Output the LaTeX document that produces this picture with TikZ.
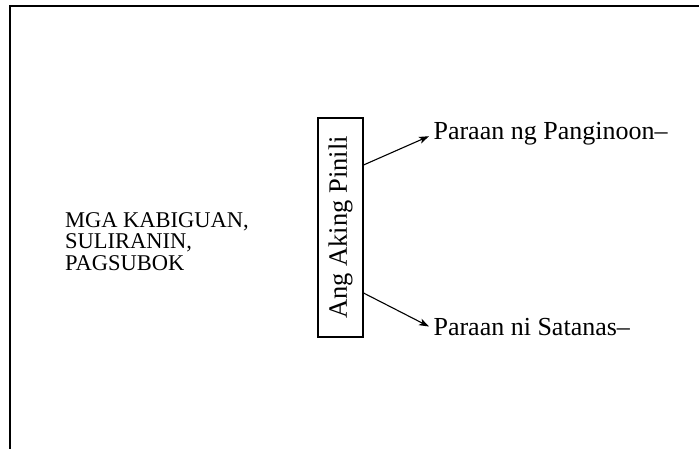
\documentclass[tikz,border=0pt]{standalone}
\usepackage{fontspec}
\setmainfont{Liberation Serif}
\usetikzlibrary{arrows.meta}

\tikzset{every picture/.style={line width=1.1pt}}
\tikzset{
	choice box/.style={draw, rotate=90, minimum width=219pt, minimum height=45pt, inner sep=0pt, font=\fontsize{26.5}{30}\selectfont},
	way label/.style={anchor=base west, inner sep=4pt, font=\fontsize{26}{30}\selectfont},
	trial text/.style={anchor=west, align=left, inner sep=0pt, font=\fontsize{22.5}{21.5}\selectfont},
	way arrow/.style={-{Stealth[length=10pt,width=7pt,inset=2.5pt]}}
}

\begin{document}
\begin{tikzpicture}[x=1pt,y=1pt,yscale=-1]
	\useasboundingbox (0,0) rectangle (699,449);
	
	% Frame
	\draw [line width=1.5pt] (699,6) -- (10,6) -- (10,449);
	
	% Text Node
	\node [trial text] (trials) at (64.5,241.3) {MGA KABIGUAN,\\SULIRANIN,\\PAGSUBOK};
	% Choice box
	\node [choice box] (choice) at (340.5,227.5) {Ang Aking Pinili};
	% Text Node
	\node [way label] (lord) at (429,140) {Paraan ng Panginoon–};
	% Text Node
	\node [way label] (satan) at (429,335) {Paraan ni Satanas–};
	
	% Arrows
	\draw [way arrow] (choice.south) ++(0,-62.5) -- ([yshift=2pt]lord.west);
	\draw [way arrow] (choice.south) ++(0,65.5) -- (satan.west);
	
\end{tikzpicture}
\end{document}
